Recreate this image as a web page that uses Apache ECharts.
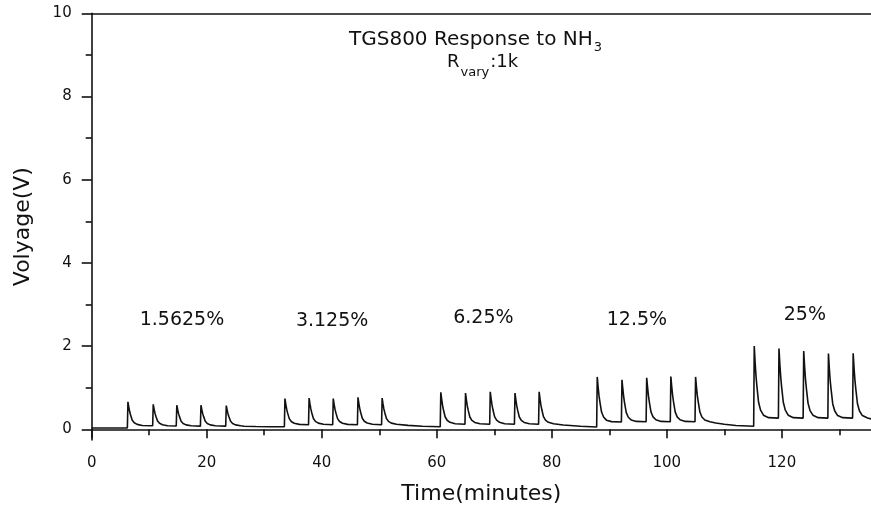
<!DOCTYPE html>
<html>
<head>
<meta charset="utf-8">
<script src="https://cdn.jsdelivr.net/npm/echarts@6/dist/echarts.min.js"></script>
<style>
  html, body { margin: 0; padding: 0; background: #fff; }
  #chart { width: 871px; height: 513px; }
</style>
</head>
<body>
<div id="chart"></div>
<script>
// concentration of each injection group
var concentrations = ['1.5625%', '3.125%', '6.25%', '12.5%', '25%'];

// sensor voltage traces, [time (min), voltage (V)], one array per group
var trace1 = [
	[0, 0.03], [3, 0.03], [6.2, 0.03],
	[6.3, 0.66], [6.45, 0.534], [6.6, 0.427], [6.76, 0.345], [7.05, 0.219], [7.4, 0.156], [7.9, 0.118], [8.8, 0.093], [10.6, 0.084],
	[10.7, 0.6], [10.85, 0.486], [11.0, 0.389], [11.16, 0.315], [11.45, 0.201], [11.8, 0.144], [12.3, 0.11], [13.2, 0.087], [14.7, 0.078],
	[14.8, 0.58], [14.95, 0.47], [15.1, 0.377], [15.26, 0.305], [15.55, 0.195], [15.9, 0.14], [16.4, 0.107], [17.3, 0.085], [18.9, 0.077],
	[19.0, 0.58], [19.15, 0.47], [19.3, 0.377], [19.46, 0.305], [19.75, 0.195], [20.1, 0.14], [20.6, 0.107], [21.5, 0.085], [23.3, 0.077],
	[23.4, 0.57], [23.55, 0.462], [23.7, 0.37], [23.86, 0.3], [24.15, 0.192], [24.5, 0.138], [25.0, 0.106], [25.9, 0.084],
	[26.5, 0.075], [28.5, 0.068], [31, 0.062], [33.5, 0.06]
];
var trace2 = [
	[33.6, 0.74], [33.75, 0.602], [33.9, 0.485], [34.06, 0.395], [34.35, 0.257], [34.7, 0.188], [35.2, 0.147], [36.1, 0.119], [37.7, 0.109],
	[37.8, 0.75], [37.95, 0.61], [38.1, 0.491], [38.26, 0.4], [38.55, 0.26], [38.9, 0.19], [39.4, 0.148], [40.3, 0.12], [41.9, 0.11],
	[42.0, 0.74], [42.15, 0.602], [42.3, 0.485], [42.46, 0.395], [42.75, 0.257], [43.1, 0.188], [43.6, 0.147], [44.5, 0.119], [46.2, 0.109],
	[46.3, 0.77], [46.45, 0.626], [46.6, 0.504], [46.76, 0.41], [47.05, 0.266], [47.4, 0.194], [47.9, 0.151], [48.8, 0.122], [50.4, 0.111],
	[50.5, 0.75], [50.65, 0.61], [50.8, 0.491], [50.96, 0.4], [51.25, 0.26], [51.6, 0.19], [52.1, 0.148], [53.0, 0.12],
	[55, 0.095], [57.5, 0.075], [60.6, 0.06]
];
var trace3 = [
	[60.7, 0.89], [60.85, 0.722], [61.0, 0.579], [61.16, 0.47], [61.45, 0.302], [61.8, 0.218], [62.3, 0.168], [63.2, 0.134], [64.9, 0.121],
	[65.0, 0.87], [65.15, 0.706], [65.3, 0.567], [65.46, 0.46], [65.75, 0.296], [66.1, 0.214], [66.6, 0.165], [67.5, 0.132], [69.2, 0.12],
	[69.3, 0.9], [69.45, 0.73], [69.6, 0.586], [69.76, 0.475], [70.05, 0.305], [70.4, 0.22], [70.9, 0.169], [71.8, 0.135], [73.5, 0.122],
	[73.6, 0.87], [73.75, 0.706], [73.9, 0.567], [74.06, 0.46], [74.35, 0.296], [74.7, 0.214], [75.2, 0.165], [76.1, 0.132], [77.7, 0.12],
	[77.8, 0.9], [77.95, 0.73], [78.1, 0.586], [78.26, 0.475], [78.55, 0.305], [78.9, 0.22], [79.4, 0.169], [80.3, 0.135],
	[82, 0.105], [85, 0.075], [87.8, 0.055]
];
var trace4 = [
	[87.9, 1.26], [88.05, 1.02], [88.2, 0.815], [88.36, 0.66], [88.65, 0.415], [89.0, 0.295], [89.5, 0.22], [90.4, 0.185], [92.1, 0.175],
	[92.2, 1.19], [92.35, 0.97], [92.5, 0.78], [92.66, 0.63], [92.95, 0.4], [93.3, 0.29], [93.8, 0.225], [94.7, 0.19], [96.4, 0.18],
	[96.5, 1.24], [96.65, 1.01], [96.8, 0.81], [96.96, 0.655], [97.25, 0.415], [97.6, 0.3], [98.1, 0.23], [99.0, 0.19], [100.6, 0.18],
	[100.7, 1.27], [100.85, 1.03], [101.0, 0.825], [101.16, 0.665], [101.45, 0.42], [101.8, 0.3], [102.3, 0.23], [103.2, 0.19], [104.9, 0.18],
	[105.0, 1.26], [105.15, 1.02], [105.3, 0.815], [105.46, 0.66], [105.75, 0.415], [106.1, 0.295], [106.6, 0.225], [107.5, 0.18],
	[108.5, 0.15], [110, 0.12], [112, 0.09], [115.1, 0.075]
];
var trace5 = [
	[115.2, 2.0], [115.35, 1.61], [115.5, 1.29], [115.66, 1.04], [115.95, 0.65], [116.3, 0.46], [116.8, 0.34], [117.7, 0.28], [119.4, 0.27],
	[119.5, 1.94], [119.65, 1.57], [119.8, 1.26], [119.96, 1.02], [120.25, 0.65], [120.6, 0.46], [121.1, 0.34], [122.0, 0.28], [123.7, 0.27],
	[123.8, 1.88], [123.95, 1.52], [124.1, 1.22], [124.26, 0.99], [124.55, 0.63], [124.9, 0.45], [125.4, 0.34], [126.3, 0.28], [128.0, 0.27],
	[128.1, 1.82], [128.25, 1.47], [128.4, 1.18], [128.56, 0.96], [128.85, 0.61], [129.2, 0.44], [129.7, 0.33], [130.6, 0.28], [132.3, 0.27],
	[132.4, 1.83], [132.55, 1.48], [132.7, 1.19], [132.86, 0.965], [133.15, 0.615], [133.5, 0.44], [134.0, 0.33], [134.9, 0.27], [135.5, 0.25]
];

// tick values
var xMajorTicks = [0, 20, 40, 60, 80, 100, 120];
var xMinorTicks = [10, 30, 50, 70, 90, 110, 130];
var yMajorTicks = [0, 2, 4, 6, 8, 10];
var yMinorTicks = [1, 3, 5, 7, 9];

(function () {
	var font = 'DejaVu Sans', ink = '#111';
	var xMin = 0, xMax = 135.5, yMin = -0.257, yMax = 10;
	// where each concentration label sits, in axis units
	var labelAt = [[15.7, 2.63], [41.8, 2.6], [68.1, 2.68], [94.8, 2.63], [124.0, 2.75]];

	var trace = [].concat(trace1, trace2, trace3, trace4, trace5);
	var axisLine = { show : true, lineStyle : { color : ink, width : 1.6 } };
	var hidden = { show : false };

	var chart = echarts.init(document.getElementById('chart'), null, { renderer : 'canvas' });
	chart.setOption({
		animation : false,
		backgroundColor : '#fff',
		textStyle : { fontFamily : font, color : ink },
		title : [{
			text : 'TGS800 Response to NH{sub|3}',
			left : 349, top : 25, padding : 0,
			textStyle : {
				fontFamily : font, fontSize : 20, fontWeight : 'normal', color : ink,
				rich : { sub : { fontFamily : font, fontSize : 13, color : ink, padding : [16, 0, 0, 1] } }
			}
		}, {
			text : 'R{sub|vary}:1k',
			left : 447, top : 46, padding : 0,
			textStyle : {
				fontFamily : font, fontSize : 18, fontWeight : 'normal', color : ink,
				rich : { sub : { fontFamily : font, fontSize : 13, color : ink, padding : [20, 1, 0, 1] } }
			}
		}],
		grid : { left : 91.7, right : 0, top : 13.3, bottom : 73, containLabel : false },
		xAxis : [{
			type : 'value', min : xMin, max : xMax, position : 'bottom',
			axisLine : axisLine,
			axisTick : { show : true, customValues : xMajorTicks, length : 9, lineStyle : { color : ink, width : 1.6 } },
			axisLabel : { customValues : xMajorTicks, margin : 16, fontSize : 15, color : ink, fontFamily : font },
			splitLine : hidden,
			name : 'Time(minutes)', nameLocation : 'middle', nameGap : 43,
			nameTextStyle : { fontSize : 22, color : ink, fontFamily : font }
		}, {
			type : 'value', min : xMin, max : xMax, position : 'bottom',
			axisLine : hidden,
			axisTick : { show : true, customValues : xMinorTicks, length : 6, lineStyle : { color : ink, width : 1.6 } },
			axisLabel : hidden, splitLine : hidden
		}, {
			type : 'value', min : xMin, max : xMax, position : 'top',
			axisLine : axisLine, axisTick : hidden, axisLabel : hidden, splitLine : hidden
		}],
		yAxis : [{
			type : 'value', min : yMin, max : yMax, position : 'left',
			axisLine : axisLine,
			axisTick : { show : true, customValues : yMajorTicks, length : 10, lineStyle : { color : ink, width : 1.6 } },
			axisLabel : { customValues : yMajorTicks, margin : 20, fontSize : 15, color : ink, fontFamily : font },
			splitLine : hidden,
			name : 'Volyage(V)', nameLocation : 'middle', nameGap : 57, nameRotate : 90,
			nameTextStyle : { fontSize : 22, color : ink, fontFamily : font }
		}, {
			type : 'value', min : yMin, max : yMax, position : 'left', offset : 0,
			axisLine : hidden,
			axisTick : { show : true, customValues : yMinorTicks, length : 6, lineStyle : { color : ink, width : 1.6 } },
			axisLabel : hidden, splitLine : hidden
		}],
		series : [{
			type : 'line',
			xAxisIndex : 0, yAxisIndex : 0,
			data : trace,
			showSymbol : false,
			sampling : null,
			lineStyle : { color : ink, width : 1.6 },
			markPoint : {
				symbol : 'circle', symbolSize : 0,
				label : { show : true, position : 'inside', formatter : '{b}', fontSize : 19, color : ink, fontFamily : font },
				data : _map(concentrations, function (c, i) {
					return { name : c, coord : labelAt[i] };
				})
			}
		}]
	});

	function _map(arr, fn) {
		var out = [];
		for (var i = 0; i < arr.length; i++) out.push(fn(arr[i], i));
		return out;
	}
})();
</script>
</body>
</html>
